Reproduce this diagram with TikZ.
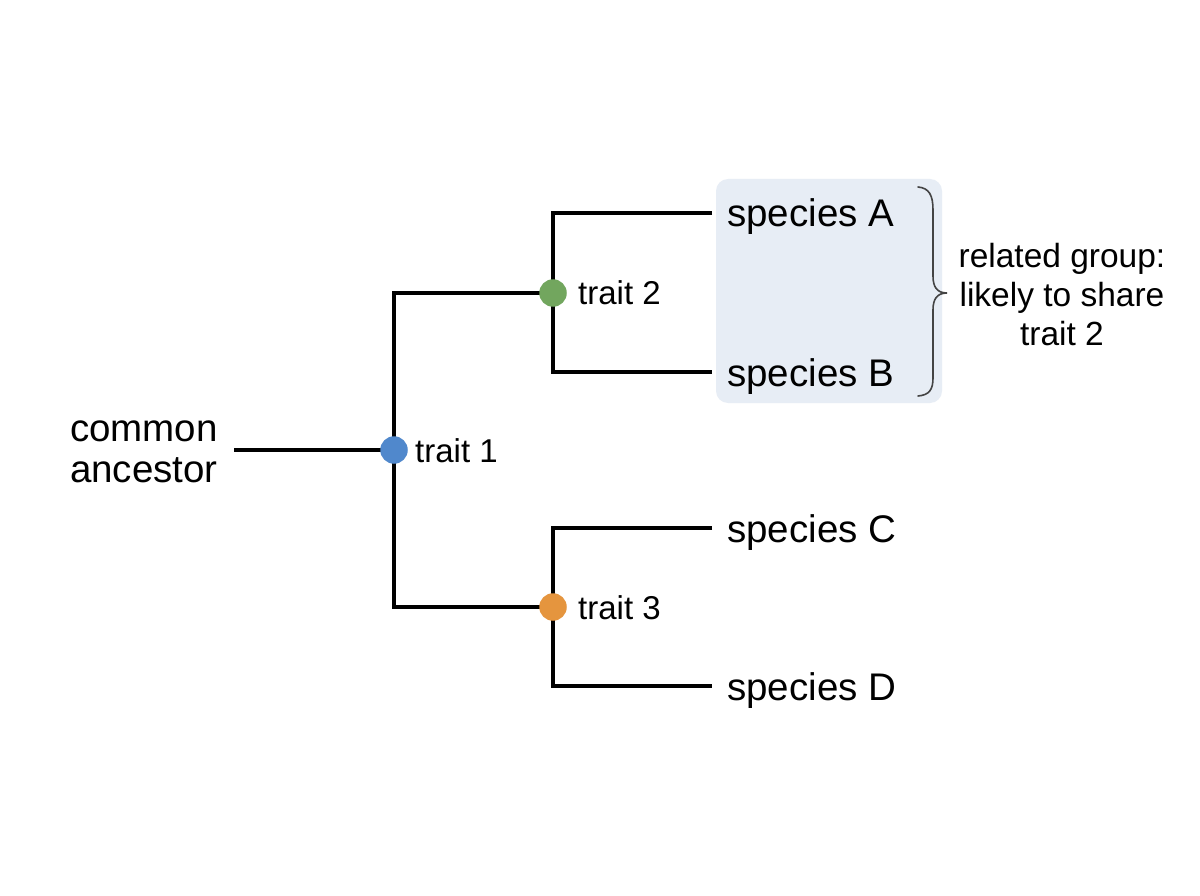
\documentclass[tikz,border=0pt]{standalone}
\usepackage{fontspec}
\setmainfont{Liberation Sans}
\definecolor{cblue}{HTML}{5088CC}
\definecolor{cgreen}{HTML}{72A65E}
\definecolor{corange}{HTML}{E5953E}
\definecolor{grpfill}{HTML}{E7EDF5}
\definecolor{bracecol}{HTML}{444444}
\begin{document}
\begin{tikzpicture}[x=1pt,y=-1pt,
  branch/.style={line width=4pt, black},
  dot/.style={circle, inner sep=0pt, minimum size=27.5pt},
  lbl/.style={font=\fontsize{38.5}{41}\selectfont, inner sep=0pt, anchor=base west},
  tlbl/.style={font=\fontsize{33}{36}\selectfont, inner sep=0pt, anchor=base west}]
\fill[white] (0,0) rectangle (1200,896);
\useasboundingbox (0,0) rectangle (1200,896);
% group box
\node (grp) [fill=grpfill, rounded corners=12pt, minimum width=226pt, minimum height=224pt, inner sep=0pt] at (829,291) {};
% coordinates
\coordinate (anc) at (234,450);
\coordinate (p1) at (394,450);
\coordinate (p2) at (553,293);
\coordinate (p3) at (553,607);
\coordinate (eA) at (712,213);
\coordinate (eB) at (712,372);
\coordinate (eC) at (712,528);
\coordinate (eD) at (712,686);
% branches
\draw[branch] (anc) -- (p1);
\draw[branch] (p2) -| (p1) |- (p3);
\draw[branch] (eA) -| (p2) |- (eB);
\draw[branch] (eC) -| (p3) |- (eD);
% dots
\node[dot, fill=cblue] (t1) at (p1) {};
\node[dot, fill=cgreen] (t2) at (p2) {};
\node[dot, fill=corange] (t3) at (p3) {};
% labels
\node[tlbl] (l1) at (415,462) {trait 1};
\node[tlbl] (l2) at (578,305) {trait 2};
\node[tlbl] (l3) at (578,619) {trait 3};
\node[lbl] (A) at (727,227) {species A};
\node[lbl] (B) at (727,386) {species B};
\node[lbl] (C) at (727,542) {species C};
\node[lbl] (D) at (727,700) {species D};
\node[align=center, inner sep=0pt, font=\fontsize{38.5}{41}\selectfont] (ca) at (144,452) {common\\ancestor};
\node[align=center, inner sep=0pt, font=\fontsize{33.5}{39}\selectfont] (rel) at (1062,295) {related group:\\likely to share\\trait 2};
% brace
\draw[bracecol, line width=1.6pt, line cap=round]
  (918,187) .. controls (929,188) and (933,195) .. (933,210)
  -- (933,276) .. controls (933,287) and (937,293) .. (947,293)
  .. controls (937,293) and (933,299) .. (933,310)
  -- (933,378) .. controls (933,390) and (929,395) .. (918,396);
\end{tikzpicture}
\end{document}
